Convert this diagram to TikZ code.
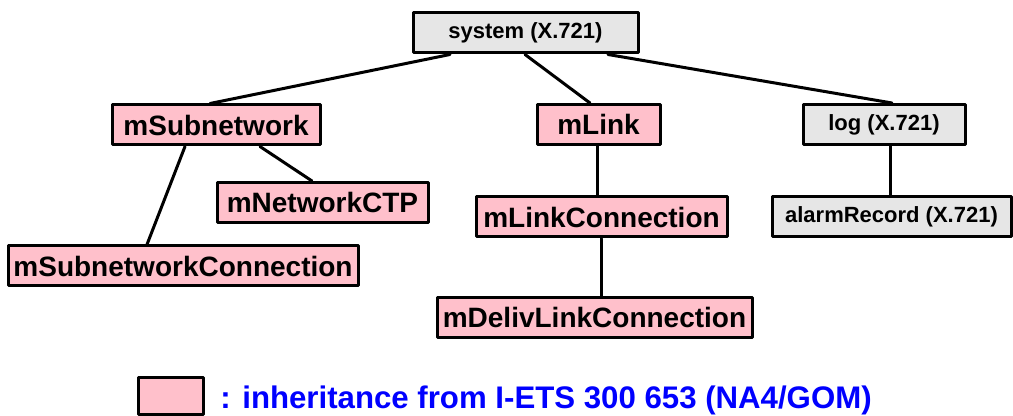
\documentclass[tikz,border=0pt]{standalone}
\usepackage{fontspec}
\setmainfont{Liberation Sans}
\definecolor{pinkfill}{RGB}{255,192,203}
\definecolor{greyfill}{RGB}{230,230,230}
\definecolor{legendblue}{RGB}{0,0,255}
\begin{document}
\begin{tikzpicture}[x=0.5pt, y=-0.5pt, line join=round, line cap=round,
	pinkbox/.style={draw, line width=1.5pt, fill=pinkfill, inner sep=0pt, minimum height=20pt, font=\fontsize{14}{16}\selectfont\bfseries},
	greybox/.style={draw, line width=1.5pt, fill=greyfill, inner sep=0pt, minimum height=20pt, font=\fontsize{11}{12}\selectfont\bfseries},
	link/.style={line width=1.5pt}]
	\useasboundingbox (0,0) rectangle (1013,416);
	% boxes
	\node[greybox, minimum width=112.5pt] (sys) at (525.5,33) {system (X.721)};
	\node[pinkbox, minimum width=104pt] (msub) at (216,125) {mSubnetwork};
	\node[pinkbox, minimum width=61.5pt] (mlink) at (598.5,124.5) {mLink};
	\node[greybox, minimum width=81pt] (log) at (884,124.5) {log (X.721)};
	\node[pinkbox, minimum width=105.5pt] (mctp) at (322.5,202.5) {mNetworkCTP};
	\node[pinkbox, minimum width=175pt] (msubconn) at (183,266) {mSubnetworkConnection};
	\node[pinkbox, minimum width=125.5pt] (mlinkconn) at (601.5,217) {mLinkConnection};
	\node[greybox, minimum width=119.5pt] (alarm) at (891.5,216.5) {alarmRecord (X.721)};
	\node[pinkbox, minimum width=157.5pt] (mdeliv) at (594.5,317.5) {mDelivLinkConnection};
	% tree
	\foreach \a/\xa/\b/\xb in {sys/450/msub/210, sys/525/mlink/590, sys/608/log/892,
		msub/185/msubconn/147, msub/260/mctp/312, mlink/597/mlinkconn/597,
		mlinkconn/601/mdeliv/601, log/890/alarm/890}
		\draw[link] (\a.south -| \xa,0) -- (\b.north -| \xb,0);
	% legend
	\node[pinkbox, minimum width=32.5pt, minimum height=18.5pt] (legbox) at (171,396) {};
	\node[anchor=base west, inner sep=0pt, text=legendblue, font=\fontsize{15.6}{17}\selectfont\bfseries] (legtext) at (220,409) {: inheritance from I-ETS 300 653 (NA4/GOM)};
\end{tikzpicture}
\end{document}
